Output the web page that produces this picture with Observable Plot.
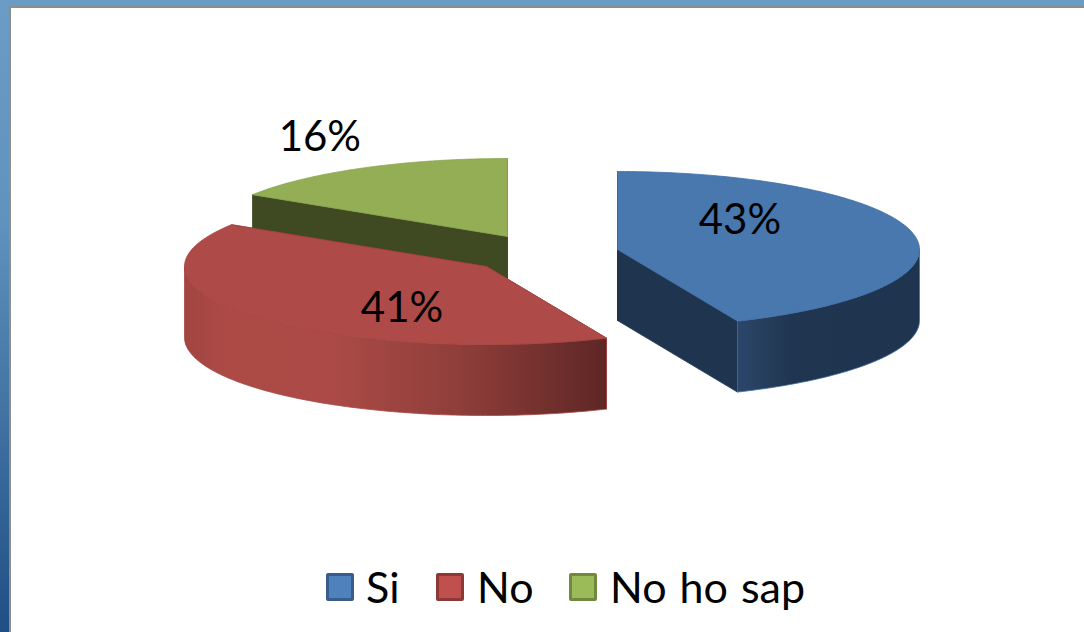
<!DOCTYPE html>
<html>
<head>
<meta charset="utf-8">
<script src="https://cdn.jsdelivr.net/npm/d3@7"></script>
<script src="https://cdn.jsdelivr.net/npm/@observablehq/plot@0.6"></script>
<style>
html,body{margin:0;padding:0;width:1084px;height:632px;overflow:hidden;}
body{background:linear-gradient(to bottom,#6a9cc5 0%,#5f92bd 35%,#1f4f85 100%);position:relative;font-family:Lato,sans-serif;}
#panel{position:absolute;left:9px;top:6px;right:-4px;bottom:-4px;background:#fff;border-left:2px solid #8d8d8d;border-top:2px solid #8d8d8d;}
#chart{position:absolute;left:0;top:0;}
#chart svg{background:transparent;display:block;}
.lg{position:absolute;top:564px;font-size:43px;word-spacing:2px;line-height:46px;color:#000;white-space:nowrap;}
.sw{position:absolute;top:573px;width:22px;height:22px;border-width:3px;border-style:solid;border-radius:2px;}
</style>
</head>
<body>
<div id="panel"></div>
<div id="chart"></div>
<script>
// Chart data
const categories = ["Si", "No", "No ho sap"];
const shares = [43.5, 40.5, 16];
const labels = ["43%", "41%", "16%"];
const topColors = ["#4878ae", "#ae4a47", "#93ae55"];
const swatchColors = ["#4f81bd", "#c0504d", "#9bbb59"];
const swatchBorders = ["#385d8a", "#8c3836", "#71893f"];
const radialWallColors = ["#1f344f", "#7a2f2d", "#3f4a22"];
const edgeColors = ["#3f6ea6", "#a64643", "#8aa650"];

// 3-D pie projection
const W = 1084, H = 632;
const rx = 302, ry = 78, depth = 71;
const centers = [[617, 249], [486, 266], [507, 236]];
const labelReach = [[0.414, 1.8], [0.368, 0.83], [1.29, 1.45]];
const rad = d => d * Math.PI / 180;
const total = d3.sum(shares);
let acc = 0;
const slices = categories.map((name, i) => {
  const a0 = acc / total * 360; acc += shares[i];
  return {name, i, a0, a1: acc / total * 360, cx: centers[i][0], cy: centers[i][1]};
});
const pt = (s, a, dz = 0) => ({x: s.cx + rx * Math.sin(rad(a)), y: s.cy - ry * Math.cos(rad(a)) + dz});
const arc = (s, a0, a1, dz = 0) => d3.range(0, 121).map(k => pt(s, a0 + (a1 - a0) * k / 120, dz));
const topFace = s => { const c = {x: s.cx, y: s.cy}; return [c, ...arc(s, s.a0, s.a1), c]; };
const radialWall = (s, a) => { const e = pt(s, a);
  return [{x: s.cx, y: s.cy}, e, {x: e.x, y: e.y + depth}, {x: s.cx, y: s.cy + depth}, {x: s.cx, y: s.cy}]; };
const outerWall = s => {
  const a0 = Math.max(s.a0, 90), a1 = Math.min(s.a1, 270);
  if (a1 <= a0) return [];
  const up = arc(s, a0, a1), down = arc(s, a1, a0, depth);
  return [...up, ...down, up[0]];
};
const grad = (id, x1, x2, stops) => {
  const g = d3.create("svg:linearGradient").attr("id", id).attr("gradientUnits", "userSpaceOnUse")
    .attr("x1", x1).attr("x2", x2).attr("y1", 0).attr("y2", 0);
  stops.forEach(([o, c]) => g.append("stop").attr("offset", o).attr("stop-color", c));
  return g.node();
};
const defs = () => {
  const d = d3.create("svg:defs");
  d.node().append(
    grad("wall0", 738, 918, [[0, "#2b466b"], [0.3, "#20354f"], [1, "#1f344f"]]),
    grad("wall1", 185, 606, [[0, "#a24541"], [0.1, "#ad4a46"], [0.35, "#ab4a46"], [0.65, "#8f3e3a"], [1, "#5e2725"]])
  );
  return d.node();
};
const poly = (pts, fill, stroke, sw = 0.8) => Plot.line(pts, {x: "x", y: "y", fill, stroke, strokeWidth: sw, curve: "linear"});
const order = [2, 1, 0];
const marks = [defs];
for (const i of order) {
  const s = slices[i];
  marks.push(poly(radialWall(s, s.a0), radialWallColors[i], radialWallColors[i]));
  marks.push(poly(radialWall(s, s.a1), radialWallColors[i], radialWallColors[i]));
  const w = outerWall(s);
  if (w.length) marks.push(poly(w, `url(#wall${i})`, edgeColors[i]));
  marks.push(poly(topFace(s), topColors[i], edgeColors[i]));
}
const labelData = slices.map((s, i) => {
  const m = rad((s.a0 + s.a1) / 2);
  return {
    x: s.cx + rx * Math.sin(m) * labelReach[i][0],
    y: s.cy - ry * Math.cos(m) * labelReach[i][1],
    text: labels[i]
  };
});
marks.push(Plot.text(labelData, {x: "x", y: "y", text: "text", fontSize: 42, fill: "#000", fontFamily: "Lato", textAnchor: "middle"}));

const chart = Plot.plot({
  width: W, height: H,
  margin: 0,
  x: {domain: [0, W], range: [0, W], axis: null},
  y: {domain: [0, H], range: [0, H], axis: null},
  style: {background: "transparent"},
  marks
});
document.getElementById("chart").append(chart);

// Legend
const legendSwatchX = [326, 436, 569];
const legendTextX = [366, 477, 610];
categories.forEach((name, i) => {
  const sw = document.createElement("div");
  sw.className = "sw";
  sw.style.left = legendSwatchX[i] + "px";
  sw.style.background = swatchColors[i];
  sw.style.borderColor = swatchBorders[i];
  document.body.append(sw);
  const t = document.createElement("div");
  t.className = "lg";
  t.style.left = legendTextX[i] + "px";
  t.textContent = name;
  document.body.append(t);
});
</script>
</body>
</html>
